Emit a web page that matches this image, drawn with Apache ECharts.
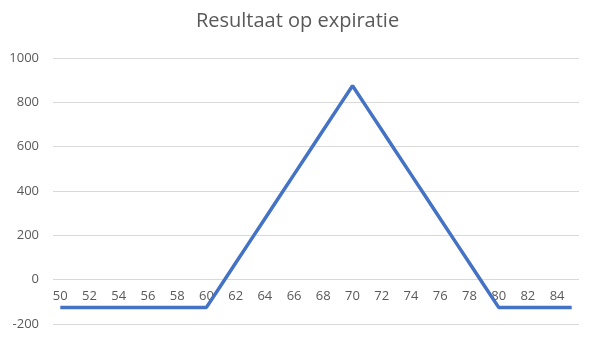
<!DOCTYPE html>
<html><head><meta charset="utf-8">
<script src="https://cdn.jsdelivr.net/npm/echarts@6/dist/echarts.min.js"></script>
<style>html,body{margin:0;padding:0;background:#fff}#c{width:595px;height:339px}</style>
</head><body><div id="c"></div>
<script>
const categories = ['50','51','52','53','54','55','56','57','58','59','60','61','62','63','64','65','66','67','68','69','70','71','72','73','74','75','76','77','78','79','80','81','82','83','84','85'];
const resultValues = [-125,-125,-125,-125,-125,-125,-125,-125,-125,-125,-125,-25,75,175,275,375,475,575,675,775,875,775,675,575,475,375,275,175,75,-25,-125,-125,-125,-125,-125,-125];
const yTicks = {min:-200, max:1000, interval:200};
const chart = echarts.init(document.getElementById('c'), null, {renderer:'canvas'});
const gridTop = 58, gridBottom = 15, H = 339;
const plotH = H - gridTop - gridBottom;
const zeroOffset = plotH * (0 - yTicks.min) / (yTicks.max - yTicks.min);
chart.setOption({
  animation:false,
  title:{text:'Resultaat op expiratie', left:'center', top:6, textStyle:{fontFamily:'Open Sans', fontSize:20, fontWeight:'normal', color:'#595959'}},
  grid:{left:53, right:16, top:gridTop, bottom:gridBottom, containLabel:false},
  xAxis:{type:'category', data:categories, boundaryGap:true, offset:-zeroOffset,
    axisLine:{show:false},
    axisTick:{show:false},
    axisLabel:{interval:1, margin:10, color:'#595959', fontFamily:'Open Sans', fontSize:13}},
  yAxis:{type:'value', min:yTicks.min, max:yTicks.max, interval:yTicks.interval,
    axisLine:{show:false}, axisTick:{show:false},
    splitLine:{lineStyle:{color:'#d9d9d9'}},
    axisLabel:{margin:14, color:'#595959', fontFamily:'Open Sans', fontSize:13, formatter:function(v){return String(v);}}},
  series:[{type:'line', data:resultValues, showSymbol:false, lineStyle:{color:'#4472C4', width:3.5}, itemStyle:{color:'#4472C4'}}]
});
</script></body></html>
